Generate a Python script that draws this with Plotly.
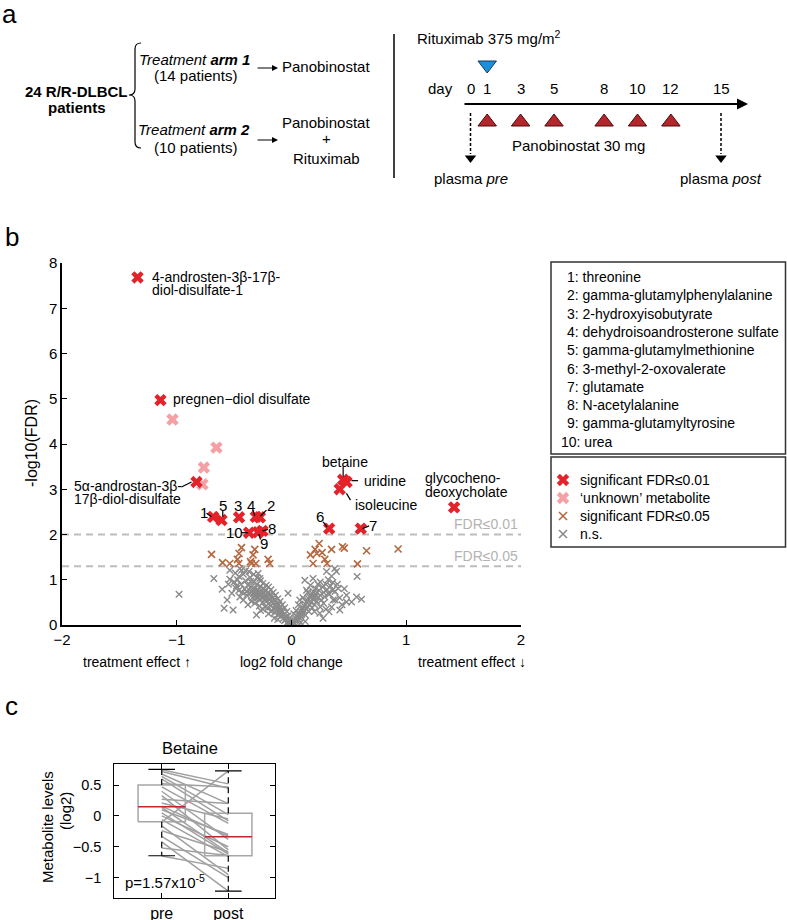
import math
import plotly.graph_objects as go

W, H = 787, 920
FONT = "Liberation Sans, Arial, Helvetica, sans-serif"

# ================= Panel a: study schedule =================
day_ticks = [0, 1, 3, 5, 8, 10, 12, 15]
panobinostat_days = [1, 3, 5, 8, 10, 12]
rituximab_days = [1]
plasma_days = [0, 15]
plasma_labels = ["plasma <i>pre</i>", "plasma <i>post</i>"]
arm_labels = ["<i>Treatment <b>arm 1</b></i>", "<i>Treatment <b>arm 2</b></i>"]
arm_patients = ["(14 patients)", "(10 patients)"]

# ================= Panel b: volcano =================
named_labels = ["4-androsten-3β-17β-diol-disulfate-1", "pregnen−diol disulfate",
                "5α-androstan-3β-17β-diol-disulfate", "betaine", "uridine",
                "isoleucine", "glycochenodeoxycholate"]
named_lfc = [-1.342, -1.142, -0.828, 0.450, 0.480, 0.420, 1.417]
named_mlogfdr = [7.68, 4.97, 3.16, 3.21, 3.16, 3.00, 2.60]

num_ids = ["1", "2", "3", "4", "5", "6", "7", "8", "9", "10"]
num_names = ["threonine", "gamma-glutamylphenylalanine", "2-hydroxyisobutyrate",
             "dehydroisoandrosterone sulfate", "gamma-glutamylmethionine",
             "3-methyl-2-oxovalerate", "glutamate", "N-acetylalanine",
             "gamma-glutamyltyrosine", "urea"]
num_lfc = [-0.683, -0.276, -0.457, -0.311, -0.610, 0.328, 0.604, -0.253, -0.291, -0.370]
num_mlogfdr = [2.39, 2.38, 2.38, 2.39, 2.32, 2.13, 2.13, 2.08, 2.05, 2.04]

unknown_lfc = [-1.037, -0.654, -0.764, -0.776]
unknown_mlogfdr = [4.54, 3.92, 3.48, 3.11]

fdr05_points = [(-0.697, 1.56), (-0.601, 1.38), (-0.538, 1.36), (-0.457, 1.58), (-0.436, 1.71),
                (-0.471, 1.45), (-0.459, 1.36), (-0.357, 1.40), (-0.335, 1.55), (-0.320, 1.67),
                (-0.349, 1.36), (-0.311, 1.36), (-0.204, 1.45), (-0.189, 1.36), (0.165, 1.55),
                (0.188, 1.36), (0.206, 1.67), (0.241, 1.80), (0.267, 1.60), (0.290, 1.45),
                (0.310, 1.36), (0.349, 1.67), (0.444, 1.73), (0.460, 1.70), (0.575, 1.35),
                (0.654, 1.64), (0.929, 1.68), (0.220, 1.58)]

ns_points = [
    (-0.98, 0.68), (-0.677, 1.03), (-0.604, 0.79), (-0.561, 0.55), (-0.587, 0.37), (-0.509, 0.33),
    (-0.538, 1.01), (-0.538, 1.21), (-0.485, 0.81), (-0.457, 1.07), (-0.436, 1.21), (-0.45, 0.62),
    (-0.392, 0.74), (-0.37, 1.18), (-0.357, 0.96), (-0.305, 0.22), (-0.291, 1.14), (-0.276, 1.03),
    (-0.03, 0.70), (0.072, 0.55), (0.116, 0.99), (0.131, 0.77), (0.165, 0.88), (0.188, 1.03),
    (0.305, 1.18), (0.377, 1.25), (0.392, 1.18), (0.319, 0.70), (0.357, 0.77), (0.406, 0.81),
    (0.363, 0.55), (0.421, 0.33), (0.479, 0.51), (0.523, 0.51), (0.567, 0.62), (0.61, 0.57),
    (0.572, 1.07), (0.247, 0.26), (0.275, 0.15), (0.328, 0.29),
    (-0.01, 0.02), (-0.02, 0.05), (-0.03, 0.08), (-0.04, 0.04), (-0.05, 0.12), (-0.05, 0.18),
    (-0.06, 0.10), (-0.07, 0.15), (-0.07, 0.22), (-0.08, 0.28), (-0.09, 0.20), (-0.09, 0.33),
    (-0.10, 0.25), (-0.10, 0.38), (-0.11, 0.30), (-0.11, 0.45), (-0.12, 0.35), (-0.12, 0.22),
    (-0.13, 0.40), (-0.13, 0.50), (-0.14, 0.28), (-0.14, 0.44), (-0.15, 0.55), (-0.15, 0.36),
    (-0.16, 0.48), (-0.16, 0.60), (-0.17, 0.32), (-0.17, 0.52), (-0.18, 0.42), (-0.18, 0.62),
    (-0.19, 0.56), (-0.19, 0.68), (-0.20, 0.47), (-0.20, 0.72), (-0.21, 0.60), (-0.21, 0.38),
    (-0.22, 0.66), (-0.22, 0.52), (-0.23, 0.74), (-0.23, 0.58), (-0.24, 0.63), (-0.24, 0.80),
    (-0.25, 0.70), (-0.25, 0.50), (-0.26, 0.76), (-0.26, 0.60), (-0.27, 0.66), (-0.27, 0.85),
    (-0.28, 0.72), (-0.28, 0.55), (-0.29, 0.78), (-0.29, 0.62), (-0.30, 0.68), (-0.30, 0.90),
    (-0.31, 0.74), (-0.31, 0.58), (-0.32, 0.80), (-0.32, 0.65), (-0.33, 0.70), (-0.33, 0.95),
    (-0.34, 0.76), (-0.34, 0.60), (-0.35, 0.84), (-0.36, 0.70), (-0.36, 1.05), (-0.37, 0.78),
    (-0.38, 0.88), (-0.39, 0.66), (-0.40, 0.98), (-0.41, 0.80), (-0.42, 1.12), (-0.43, 0.72),
    (-0.44, 0.90), (-0.46, 0.76), (-0.47, 1.00), (-0.48, 0.86), (-0.50, 0.95), (-0.52, 0.70),
    (-0.55, 0.90), (-0.45, 1.25), (-0.49, 1.15), (-0.40, 1.20), (-0.33, 1.12), (-0.30, 1.05),
    (-0.27, 0.98), (-0.25, 0.92), (-0.22, 0.88), (-0.20, 0.84), (-0.18, 0.78), (-0.16, 0.72),
    (-0.14, 0.66), (-0.12, 0.58), (-0.10, 0.52), (-0.08, 0.45), (-0.06, 0.38), (-0.04, 0.30),
    (-0.03, 0.20), (-0.02, 0.14), (-0.01, 0.09), (-0.20, 0.25), (-0.25, 0.35), (-0.28, 0.42),
    (-0.32, 0.48), (-0.35, 0.52), (-0.38, 0.45), (-0.42, 0.55), (-0.18, 0.30), (-0.23, 0.40),
    (-0.27, 0.32), (-0.15, 0.15), (-0.12, 0.12),
    (0.01, 0.02), (0.02, 0.06), (0.03, 0.10), (0.03, 0.04), (0.04, 0.14), (0.05, 0.08),
    (0.05, 0.18), (0.06, 0.22), (0.06, 0.12), (0.07, 0.26), (0.07, 0.16), (0.08, 0.30),
    (0.08, 0.20), (0.09, 0.34), (0.09, 0.24), (0.10, 0.38), (0.10, 0.28), (0.11, 0.42),
    (0.11, 0.32), (0.12, 0.46), (0.12, 0.22), (0.13, 0.50), (0.13, 0.36), (0.14, 0.54),
    (0.14, 0.40), (0.15, 0.58), (0.15, 0.30), (0.16, 0.62), (0.16, 0.44), (0.17, 0.66),
    (0.17, 0.50), (0.18, 0.70), (0.18, 0.38), (0.19, 0.56), (0.19, 0.74), (0.20, 0.62),
    (0.20, 0.45), (0.21, 0.68), (0.21, 0.80), (0.22, 0.52), (0.22, 0.72), (0.23, 0.60),
    (0.23, 0.90), (0.24, 0.76), (0.25, 0.66), (0.25, 0.95), (0.26, 0.55), (0.27, 0.84),
    (0.28, 0.72), (0.29, 0.62), (0.30, 0.90), (0.31, 0.78), (0.32, 1.00), (0.33, 0.68),
    (0.34, 0.86), (0.35, 1.08), (0.36, 0.94), (0.38, 0.74), (0.40, 0.90), (0.42, 0.60),
    (0.44, 0.45), (0.46, 0.80), (0.48, 0.66), (0.12, 0.08), (0.08, 0.05), (0.20, 0.30),
    (0.25, 0.40), (0.30, 0.35), (0.28, 0.48), (0.35, 0.40), (0.38, 0.55), (0.10, 0.60),
    (0.14, 0.72), (0.06, 0.45), (0.04, 0.32), (0.02, 0.25)]

fdr_thresholds = [0.01, 0.05]
legend_labels = ["significant FDR≤0.01", "‘unknown’ metabolite", "significant FDR≤0.05", "n.s."]

# ================= Panel c: betaine =================
pre_levels = [0.75, 0.72, 0.68, 0.64, 0.60, 0.52, 0.47, 0.40, 0.33, 0.27, 0.21, 0.16,
              0.14, 0.10, 0.05, 0.00, -0.06, -0.10, -0.16, -0.24, -0.33, -0.42, -0.52, -0.65]
post_levels = [0.52, 0.45, 0.20, 0.02, -0.08, 0.47, -0.12, -0.38, -0.55, 0.20, -0.05, -0.33,
               -0.60, -0.30, -0.62, -0.50, -0.66, 0.73, -0.95, -0.58, -1.00, -1.22, -0.64, -0.85]
groups = ["pre", "post"]
box_q1 = [-0.093, -0.645]
box_median = [0.15, -0.336]
box_q3 = [0.50, 0.044]
whisker_low = [-0.645, -1.22]
whisker_high = [0.755, 0.73]
p_value_text = "p=1.57x10<sup>-5</sup>"

# ---------------------------------------------------------------
RED, PINK, BROWN, GRAY = "#e3222a", "#f4a1a6", "#b5683f", "#8a8a8a"

def PX(x):
    return x / W

def PY(y):
    return 1 - y / H

annotations, shapes = [], []

def text(s, x, y, size=14, xanchor="center", yanchor="middle", color="black",
         angle=0, xref="paper", yref="paper"):
    if xref == "paper":
        x = PX(x)
    if yref == "paper":
        y = PY(y)
    annotations.append(dict(text=s, x=x, y=y, xref=xref, yref=yref, xanchor=xanchor,
                            yanchor=yanchor, showarrow=False, textangle=angle,
                            font=dict(size=size, color=color, family=FONT)))

def seg(x0, y0, x1, y1, xref="paper", yref="paper", color="black", width=1.0, dash="solid",
        layer="above"):
    if xref == "paper":
        x0, x1 = PX(x0), PX(x1)
    if yref == "paper":
        y0, y1 = PY(y0), PY(y1)
    shapes.append(dict(type="line", x0=x0, y0=y0, x1=x1, y1=y1, xref=xref, yref=yref,
                       line=dict(color=color, width=width, dash=dash), layer=layer))

fig = go.Figure()

# ---------------- Panel a ----------------
text("a", 9, 14, size=26)
text("<b>24 R/R-DLBCL</b>", 76, 91, size=15)
text("<b>patients</b>", 77, 108, size=15)
brace = [(141, 43), (135, 43), (135, 49), (135, 89), (135, 95), (129, 95), (135, 95),
         (135, 101), (135, 142), (135, 148), (141, 148)]
b = [(PX(x), PY(y)) for x, y in brace]
path = ("M {},{} Q {},{} {},{} L {},{} Q {},{} {},{} Q {},{} {},{} L {},{} Q {},{} {},{}"
        .format(*[v for pt in b for v in pt]))
shapes.append(dict(type="path", path=path, xref="paper", yref="paper",
                   line=dict(color="black", width=1.2)))
arm_y = [(59, 76, 68), (129, 148, 140)]
for lab, pat, (ly, py2, ay) in zip(arm_labels, arm_patients, arm_y):
    text(lab, 194, ly, size=15)
    text(pat, 195, py2, size=15)
    annotations.append(dict(text="", x=PX(278), y=PY(ay), xref="paper", yref="paper",
                            ax=-22, ay=0, showarrow=True, arrowhead=2, arrowsize=1,
                            arrowwidth=1.2, arrowcolor="black"))
text("Panobinostat", 326, 67, size=15)
text("Panobinostat", 326, 122, size=15)
text("+", 326, 139, size=15)
text("Rituximab", 326, 158, size=15)
seg(394, 34, 394, 178, width=1.5)

DAY0_PX, PX_PER_DAY = 470.5, 16.7
def day_of(px):
    return (px - DAY0_PX) / PX_PER_DAY

text("Rituximab 375 mg/m<sup>2</sup>", 415, 37, size=15, xanchor="left")
text("day", 440, 88, size=15)
for d in day_ticks:
    text(str(d), d, 88, size=15, xref="x3")
annotations.append(dict(text="", x=day_of(748), y=PY(104), xref="x3", yref="y3",
                        ax=day_of(463), ay=PY(104), axref="x3", ayref="y3",
                        showarrow=True, arrowhead=2, arrowsize=1.1, arrowwidth=2,
                        arrowcolor="black"))
for d in plasma_days:
    seg(d, 113, d, 154, xref="x3", width=1.5, dash="3px,2px")
fig.add_trace(go.Scatter(x=plasma_days, y=[PY(158)] * len(plasma_days), xaxis="x3", yaxis="y3",
                         mode="markers", cliponaxis=False, hoverinfo="skip",
                         marker=dict(symbol="triangle-down", size=10, color="black")))
fig.add_trace(go.Scatter(x=rituximab_days, y=[PY(65)] * len(rituximab_days), xaxis="x3",
                         yaxis="y3", mode="markers", cliponaxis=False, hoverinfo="skip",
                         marker=dict(symbol="triangle-down", size=16, color="#1b8fd9",
                                     line=dict(color="#16385c", width=1))))
fig.add_trace(go.Scatter(x=panobinostat_days, y=[PY(122)] * len(panobinostat_days),
                         xaxis="x3", yaxis="y3", mode="markers", cliponaxis=False,
                         hoverinfo="skip",
                         marker=dict(symbol="triangle-up", size=16, color="#b3262c",
                                     line=dict(color="#4a0b0b", width=1))))
text("Panobinostat 30 mg", 578, 145, size=15)
for d, lab in zip(plasma_days, plasma_labels):
    text(lab, d, 178, size=15, xref="x3")

# ---------------- Panel b ----------------
text("b", 12, 237, size=26)
ns_lfc = [p[0] for p in ns_points]
ns_mlogfdr = [p[1] for p in ns_points]
fdr05_lfc = [p[0] for p in fdr05_points]
fdr05_mlogfdr = [p[1] for p in fdr05_points]

fig.add_trace(go.Scatter(x=ns_lfc, y=ns_mlogfdr, mode="markers", hoverinfo="skip",
                         marker=dict(symbol="x-thin", size=6.5, color=GRAY,
                                     line=dict(color=GRAY, width=1.4))))
fig.add_trace(go.Scatter(x=fdr05_lfc, y=fdr05_mlogfdr, mode="markers", hoverinfo="skip",
                         marker=dict(symbol="x-thin", size=7, color=BROWN,
                                     line=dict(color=BROWN, width=1.6))))
fig.add_trace(go.Scatter(x=unknown_lfc, y=unknown_mlogfdr, mode="markers", hoverinfo="skip",
                         marker=dict(symbol="x", size=11, color=PINK, line=dict(width=0))))
fig.add_trace(go.Scatter(x=named_lfc + num_lfc, y=named_mlogfdr + num_mlogfdr, mode="markers",
                         hoverinfo="skip",
                         marker=dict(symbol="x", size=11, color=RED, line=dict(width=0))))

for t in fdr_thresholds:
    seg(-2, -math.log10(t), 2, -math.log10(t), xref="x", yref="y", color="#bdbdbd",
        width=2, dash="7px,5px", layer="below")
text("FDR≤0.01", 520, 524, size=14, xanchor="right", color="#b3b3b3")
text("FDR≤0.05", 520, 556, size=14, xanchor="right", color="#b3b3b3")

# number labels (data coords)
num_label_pos = [(-0.764, 2.49), (-0.183, 2.63), (-0.468, 2.65), (-0.349, 2.65), (-0.596, 2.63),
                 (0.247, 2.39), (0.711, 2.19), (-0.166, 2.13), (-0.241, 1.80), (-0.50, 2.04)]
for lab, (x, y) in zip(num_ids, num_label_pos):
    text(lab, x, y, size=15, xref="x", yref="y")
leaders = [((-0.741, 2.47), (-0.697, 2.39)), ((-0.599, 2.52), (-0.599, 2.39)),
           ((-0.335, 2.54), (-0.320, 2.41)), ((-0.218, 2.54), (-0.270, 2.41)),
           ((-0.436, 2.04), (-0.378, 2.04)), ((-0.204, 2.11), (-0.253, 2.08)),
           ((-0.270, 1.89), (-0.285, 2.01)), ((0.275, 2.28), (0.310, 2.17)),
           ((0.619, 2.13), (0.676, 2.19)),
           ((-0.959, 3.05), (-0.871, 3.16)), ((0.45, 3.49), (0.45, 3.28)),
           ((0.523, 3.19), (0.58, 3.19)), ((0.479, 2.91), (0.514, 2.76))]
for (a, c) in leaders:
    seg(a[0], a[1], c[0], c[1], xref="x", yref="y", width=1.2)

text("4-androsten-3β-17β-", -1.235, 7.70, size=14, xanchor="left", xref="x", yref="y")
text("diol-disulfate-1", -1.235, 7.41, size=14, xanchor="left", xref="x", yref="y")
text("pregnen−diol disulfate", -1.052, 4.99, size=14, xanchor="left", xref="x", yref="y")
text("5α-androstan-3β-", -1.915, 3.08, size=14, xanchor="left", xref="x", yref="y")
text("17β-diol-disulfate", -1.915, 2.78, size=14, xanchor="left", xref="x", yref="y")
text("betaine", 0.469, 3.60, size=14, xref="x", yref="y")
text("uridine", 0.61, 3.19, size=14, xanchor="left", xref="x", yref="y")
text("isoleucine", 0.532, 2.66, size=14, xanchor="left", xref="x", yref="y")
text("glycocheno-", 1.144, 3.24, size=14, xanchor="left", xref="x", yref="y")
text("deoxycholate", 1.144, 2.95, size=14, xanchor="left", xref="x", yref="y")

text("-log10(FDR)", 32, 443, size=16, angle=-90)
text("treatment effect ↑", 137, 662, size=14)
text("log2 fold change", 291, 662, size=14)
text("treatment effect ↓", 472, 662, size=14)

# Legend boxes
shapes.append(dict(type="rect", xref="paper", yref="paper", x0=PX(551), x1=PX(785.5),
                   y0=PY(454), y1=PY(262), line=dict(color="#333333", width=1.5)))
shapes.append(dict(type="rect", xref="paper", yref="paper", x0=PX(551), x1=PX(785.5),
                   y0=PY(547), y1=PY(457), line=dict(color="#333333", width=1.5)))
for i, (nid, name) in enumerate(zip(num_ids, num_names)):
    x0 = 565 if len(nid) == 1 else 559
    text(f"{nid}: {name}", x0, 277 + 18.3 * i, size=14, xanchor="left")
leg_rows = [480, 498, 516, 534]
leg_styles = [dict(symbol="x", size=11, color=RED, line=dict(width=0)),
              dict(symbol="x", size=11, color=PINK, line=dict(width=0)),
              dict(symbol="x-thin", size=8, color=BROWN, line=dict(color=BROWN, width=1.6)),
              dict(symbol="x-thin", size=8, color=GRAY, line=dict(color=GRAY, width=1.6))]
for lab, row, st in zip(legend_labels, leg_rows, leg_styles):
    fig.add_trace(go.Scatter(x=[PX(563)], y=[PY(row)], xaxis="x4", yaxis="y3", mode="markers",
                             cliponaxis=False, hoverinfo="skip", marker=st))
    text(lab, 578, row, size=14, xanchor="left")

# ---------------- Panel c ----------------
text("c", 11, 706, size=26)
lx, ly = [], []
for a, c in zip(pre_levels, post_levels):
    lx += [1, 2, None]
    ly += [a, c, None]
fig.add_trace(go.Scatter(x=lx, y=ly, xaxis="x2", yaxis="y2", mode="lines", hoverinfo="skip",
                         line=dict(color="#a0a0a0", width=1.5)))
BW, CW = 0.355, 0.2
for i in range(len(groups)):
    c = i + 1
    fig.add_trace(go.Scatter(x=[c - BW, c + BW, c + BW, c - BW, c - BW],
                             y=[box_q1[i], box_q1[i], box_q3[i], box_q3[i], box_q1[i]],
                             xaxis="x2", yaxis="y2", mode="lines", hoverinfo="skip",
                             line=dict(color="#a6a6a6", width=1.5)))
    fig.add_trace(go.Scatter(x=[c - BW, c + BW], y=[box_median[i]] * 2, xaxis="x2", yaxis="y2",
                             mode="lines", hoverinfo="skip", line=dict(color="#c0262c", width=1.5)))
    fig.add_trace(go.Scatter(x=[c, c, None, c, c], y=[box_q3[i], whisker_high[i], None,
                                                      box_q1[i], whisker_low[i]],
                             xaxis="x2", yaxis="y2", mode="lines", hoverinfo="skip",
                             line=dict(color="black", width=1.2, dash="6px,4px")))
    fig.add_trace(go.Scatter(x=[c - CW, c + CW, None, c - CW, c + CW],
                             y=[whisker_high[i]] * 2 + [None] + [whisker_low[i]] * 2,
                             xaxis="x2", yaxis="y2", mode="lines", hoverinfo="skip",
                             line=dict(color="black", width=1.2)))
text("Betaine", 190, 748, size=16.5)
text("Metabolite levels", 47, 827, size=15, angle=-90)
text("(log2)", 65, 811, size=15, angle=-90)
text(p_value_text, 123, 881, size=15, xanchor="left")

axis_common = dict(showgrid=False, zeroline=False, ticks="inside", ticklen=5,
                   tickcolor="black", linecolor="black", showline=True,
                   tickfont=dict(size=15, color="black", family=FONT))

fig.update_layout(
    width=W, height=H, margin=dict(l=0, r=0, t=0, b=0, autoexpand=False),
    paper_bgcolor="white", plot_bgcolor="rgba(0,0,0,0)", showlegend=False,
    font=dict(family=FONT, color="black", size=14),
    xaxis=dict(domain=[PX(62), PX(521)], range=[-2, 2], tickvals=[-2, -1, 0, 1, 2],
               anchor="y", linewidth=1.5, **axis_common),
    yaxis=dict(domain=[PY(625), PY(263)], range=[0, 8], tickvals=list(range(9)),
               anchor="x", linewidth=1.5, **axis_common),
    xaxis2=dict(domain=[PX(114.3), PX(275.3)], range=[0.288, 2.706], tickvals=[1, 2],
                ticktext=groups, anchor="y2", mirror="ticks", linewidth=1, **axis_common),
    yaxis2=dict(domain=[PY(898.3), PY(764.3)], range=[-1.335, 0.837],
                tickvals=[-1, -0.5, 0, 0.5], anchor="x2", mirror="ticks", linewidth=1,
                ticklabelstandoff=9, **axis_common),
    xaxis3=dict(domain=[PX(420), PX(770)], range=[day_of(420), day_of(770)], visible=False,
                anchor="y3"),
    yaxis3=dict(domain=[0, 1], range=[0, 1], visible=False, anchor="x3"),
    xaxis4=dict(domain=[0, 1], range=[0, 1], visible=False, anchor="y3"),
    annotations=annotations, shapes=shapes,
)
fig.update_layout(xaxis2_tickfont_size=16, yaxis2_tickfont_size=14.5)

fig.write_html("out.html", config={"displayModeBar": False},
               post_script="document.body.style.margin='0';document.body.style.overflow='hidden';")
